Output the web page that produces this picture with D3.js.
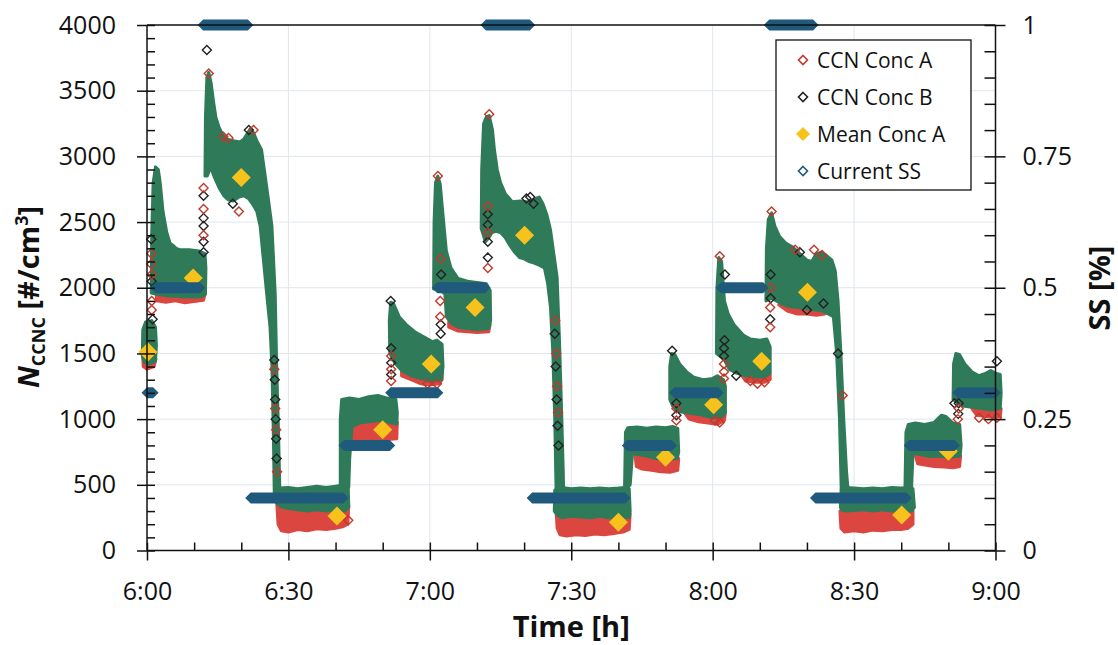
<!DOCTYPE html>
<html lang="en">
<head>
<meta charset="UTF-8" />
<title>CCNC concentration and supersaturation</title>
<style>
  * { margin: 0; padding: 0; }
  body { background: #fff; }
  text { font-family: "Open Sans", "DejaVu Sans", sans-serif; fill: #111; }
</style>
</head>
<body>
<script src="https://cdn.jsdelivr.net/npm/d3@7/dist/d3.min.js"></script>
<script>
// time = minutes after 6:00, concentration in #/cm3, SS in %
const xTicks = [0, 30, 60, 90, 120, 150, 180];
const xTickLabels = ["6:00", "6:30", "7:00", "7:30", "8:00", "8:30", "9:00"];
const yTicksLeft = [0, 500, 1000, 1500, 2000, 2500, 3000, 3500, 4000];
const yTicksRight = [0, 0.25, 0.5, 0.75, 1];
const legendLabels = ["CCN Conc A", "CCN Conc B", "Mean Conc A", "Current SS"];

// current SS: [start, end, ss]
const ssSteps = [
  [0, 1.3, 0.3], [1.8, 11.2, 0.5], [11.9, 21.4, 1.0], [22.0, 41.6, 0.1], [41.8, 51.5, 0.2],
  [51.7, 61.7, 0.3], [61.6, 71.7, 0.5], [71.9, 81.2, 1.0], [81.7, 101.4, 0.1], [101.9, 111.3, 0.2],
  [111.9, 121.2, 0.3], [121.8, 130.7, 0.5], [132.0, 141.3, 1.0], [141.8, 161.1, 0.1], [161.7, 171.3, 0.2],
  [172.0, 180, 0.3]
];

// mean conc A per SS step
const meanA = [
  [0.2, 1510], [9.8, 2075], [20.0, 2840], [40.3, 262], [50.0, 920], [60.3, 1420], [69.6, 1850],
  [80.1, 2400], [100.0, 215], [110.0, 710], [120.2, 1110], [130.4, 1440], [140.1, 1965],
  [160.1, 270], [170.0, 755]
];

// outline of the dense cloud of 1 s points
const denseBands = [
  [[-1,1480],[-0.9,1680],[-0.3,1740],[1,1750],[1.8,1700],[2,1560],[1.8,1440],[0.5,1420],[-0.5,1430]],
  [[0.9,1960],[1.0,2400],[1.3,2800],[1.8,2920],[2.4,2900],[2.8,2800],[3.4,2580],[4.2,2420],[4.9,2340],[5.6,2320],[6.2,2300],[7,2290],[9,2290],[11,2280],[12.3,2260],[12.5,2150],[12.4,1950],[11.5,1930],[8,1930],[4,1940],[2,1950]],
  [[12.3,2850],[12.4,3300],[12.7,3600],[13.1,3640],[13.6,3560],[14.1,3420],[14.6,3300],[15.3,3220],[16,3170],[17,3130],[18.3,3120],[19.7,3110],[20.5,3130],[21.2,3170],[21.9,3210],[22.6,3180],[23.3,3120],[24.3,3050],[25.0,2870],[25.8,2660],[26.5,2470],[27.2,1950],[27.5,1420],[27.9,900],[28.2,430],[27.0,430],[26.8,900],[26.5,1400],[26.1,1700],[25.4,1950],[24.7,2210],[24.0,2470],[23.3,2580],[22.5,2630],[21.5,2680],[20.5,2700],[19.5,2690],[18.3,2660],[17.2,2670],[16.3,2700],[15.3,2760],[14.3,2840],[13.5,2920],[12.8,2850]],
  [[27.2,400],[27.5,460],[28,475],[30,480],[32,470],[34,480],[36,490],[38,480],[40,490],[42,500],[42.7,480],[42.8,330],[42,300],[40,310],[38,300],[36,310],[34,300],[32,310],[30,320],[28.5,330],[27.5,360]],
  [[41.0,480],[41.0,1000],[41.3,1150],[43,1160],[45,1150],[47,1170],[49,1180],[51,1160],[52.8,1150],[53.1,1050],[53.0,960],[51,980],[49,990],[47,980],[45,970],[43.5,940],[43.0,700],[42.8,480]],
  [[51.5,1500],[51.4,1750],[51.7,1890],[52.3,1880],[53.5,1780],[55,1720],[57,1660],[59,1620],[60.5,1590],[61.5,1600],[62.6,1570],[62.8,1400],[62.5,1300],[60,1290],[58,1310],[56,1330],[54,1370],[52.5,1430]],
  [[60.8,1990],[60.9,2500],[61.2,2800],[61.7,2850],[62.2,2790],[62.8,2550],[63.5,2280],[64.5,2150],[66,2070],[68,2050],[70,2040],[72,2030],[72.8,1980],[72.9,1750],[72.5,1690],[70,1680],[68,1690],[66,1700],[64.5,1730],[63.5,1780],[63.2,1950],[62.4,1980]],
  [[70.9,2450],[71.0,2900],[71.4,3250],[72.0,3300],[72.6,3310],[73.3,3200],[73.7,3050],[74.3,2900],[75,2800],[76,2716],[77.5,2655],[79.2,2660],[81.3,2650],[82.5,2680],[83.2,2690],[84.0,2640],[84.8,2560],[85.6,2440],[86.3,2260],[87.0,2080],[87.5,1600],[88.0,1000],[88.3,600],[88.4,430],[86.8,430],[86.5,1000],[86.1,1500],[85.6,1850],[85.0,2030],[84.3,2150],[83.3,2170],[82,2190],[81,2200],[80,2220],[79,2230],[78,2270],[77,2320],[76,2380],[75,2420],[74,2430],[73.2,2420],[72.5,2380],[71.8,2350]],
  [[86.4,300],[86.5,460],[88,480],[90,470],[92,475],[94,470],[96,475],[98,470],[100,475],[101.5,480],[102.3,470],[102.5,300],[102.3,250],[100,255],[98,250],[96,260],[94,250],[92,255],[90,260],[88,250],[87,270]],
  [[101.3,450],[101.5,900],[102,935],[104,940],[106,930],[108,940],[110,935],[111.5,945],[112.6,930],[112.8,750],[112.5,700],[110,690],[108,700],[106,720],[104,730],[103,740],[102.5,500]],
  [[110.9,1150],[110.9,1400],[111.3,1500],[112,1490],[113,1420],[114.5,1360],[116,1320],[118,1300],[120,1310],[121,1330],[122.3,1300],[122.7,1250],[122.7,1050],[122,1020],[120,1010],[118,1030],[116,1040],[114,1050],[112.5,1060],[111.5,1100]],
  [[120.8,1500],[120.9,2000],[121.3,2230],[121.9,2200],[122.5,1900],[123.3,1800],[124.5,1720],[125.5,1680],[126.5,1640],[128,1610],[130,1600],[131.5,1610],[132.2,1550],[132.2,1350],[131,1320],[129,1320],[127,1330],[125,1350],[123.5,1380],[122.5,1450]],
  [[131.3,1900],[131.4,2300],[131.8,2520],[132.5,2570],[133.2,2470],[134.2,2390],[135.5,2340],[137,2310],[138.5,2260],[140,2210],[141,2200],[142,2260],[143,2270],[144,2250],[145.3,2210],[146,2130],[146.6,1900],[147.2,1500],[147.8,1000],[148.4,600],[148.8,430],[147.3,430],[146.9,1000],[146.3,1500],[145.6,1780],[144.5,1800],[143.5,1820],[142,1830],[140,1840],[138,1850],[136,1860],[134.5,1880],[133.5,1900],[132.5,1920]],
  [[147.1,330],[147.3,470],[148,480],[150,475],[152,470],[154,475],[156,470],[158,480],[160,475],[161.5,480],[162.5,470],[162.8,330],[162.3,300],[160,305],[158,300],[156,310],[154,300],[152,310],[150,305],[148,300],[147.3,310]],
  [[160.8,480],[161,900],[161.5,960],[163,970],[165,960],[167,975],[168.5,1030],[169.5,1020],[171,970],[172.4,960],[172.7,800],[172.5,720],[170,710],[168,720],[166,715],[164,730],[162.5,740],[162.2,480]],
  [[171,1150],[171.1,1420],[171.6,1500],[172.4,1490],[173.5,1420],[175,1360],[176.5,1330],[178,1350],[179,1370],[180,1350],[181,1340],[181.2,1200],[181,1080],[179,1070],[177,1080],[175,1090],[173,1100],[172,1120]]
];

// where conc A sits below the dense cloud
const lowBandsA = [
  [[-0.9,1480],[-0.8,1400],[0,1380],[1.5,1400],[1.9,1460]],
  [[2,1960],[2,1900],[4,1890],[6,1900],[8,1885],[10,1895],[12,1905],[12.3,1950]],
  [[27.5,380],[27.8,200],[28.5,150],[30,140],[32,160],[34,150],[36,165],[38,160],[40,170],[41.5,180],[42.6,200],[42.8,340],[27.6,340]],
  [[43,950],[43,840],[45,850],[47,830],[49,835],[51,845],[53,850],[53.1,980],[43,980]],
  [[54,1380],[54,1330],[56,1300],[58,1270],[60,1260],[62,1270],[62.6,1300],[62.6,1380]],
  [[64,1740],[64,1700],[66,1670],[70,1660],[72.5,1665],[72.8,1720]],
  [[86.8,300],[87,170],[87.6,120],[89,110],[91,120],[93,115],[95,125],[97,120],[99,130],[101,140],[102.3,160],[102.5,280]],
  [[103.5,740],[103.8,640],[105,620],[107,610],[109,600],[111,595],[112.6,610],[112.8,700]],
  [[114,1050],[115,1000],[117,980],[119,970],[121,960],[122.5,990],[122.7,1050]],
  [[126,1340],[127,1290],[129,1280],[131,1280],[132.2,1300],[132.2,1340]],
  [[134,1870],[136,1820],[138,1800],[140,1800],[142,1790],[143.8,1800],[144.4,1850]],
  [[147,300],[147.2,170],[148,140],[150,150],[152,140],[154,155],[156,150],[158,160],[160,160],[161.5,170],[162.5,200],[162.5,300]],
  [[163,720],[163.5,660],[165,650],[167,640],[169,635],[171,630],[172.4,640],[172.6,720]],
  [[175,1080],[176,1030],[178,1020],[180,1010],[181,1020],[181.2,1080]]
];

// single points that stand out of the cloud
const outliersA = [
  [0.9,2260],[0.9,2180],[1.0,2100],[1.0,1900],[1.0,1830],[12.0,2760],[12.0,2600],[12.0,2400],
  [13.1,3630],[16.2,3150],[17.3,3140],[19.5,2580],[22.6,3200],[27.0,1380],[27.2,1080],[27.4,920],
  [27.6,600],[42.7,230],[51.8,1290],[51.8,1380],[51.8,1480],[59.5,1270],[61.5,1270],[61.7,2850],
  [62.2,1900],[62.2,1780],[62.3,2220],[72.3,2620],[72.3,2420],[72.3,2150],[72.6,3320],[86.6,1750],
  [86.8,1500],[87.0,1250],[87.2,1050],[112.3,990],[112.3,1080],[120.5,990],[121.5,975],[121.5,2240],
  [122.4,1310],[122.4,1360],[122.4,1420],[128,1290],[129.5,1270],[131,1280],[132.2,1700],[132.2,1850],
  [132.3,2000],[132.5,2580],[137.5,2290],[141.5,2290],[143.2,2250],[147.6,1180],[172.0,1000],
  [172.2,1080],[176.5,1010],[178.5,1000],[180.3,1010]
];
const outliersB = [
  [0.9,2370],[1.0,2050],[1.2,1760],[12.0,2700],[12.0,2530],[12.0,2470],[12.0,2350],[12.0,2270],
  [12.7,3810],[21.6,3200],[18.2,2640],[27.0,1450],[27.1,1300],[27.2,1150],[27.3,1000],[27.4,850],
  [27.5,700],[51.8,1340],[51.8,1430],[51.8,1540],[51.7,1900],[62.3,1650],[62.3,1720],[62.2,2000],
  [62.4,2100],[72.3,2560],[72.3,2480],[72.3,2350],[72.3,2230],[80.5,2680],[81.3,2690],[82,2640],
  [86.5,1650],[86.7,1400],[86.9,1150],[87.1,950],[87.3,800],[112.3,1030],[112.3,1120],[111.4,1520],
  [122.4,1480],[122.4,1540],[122.5,1600],[122.6,2100],[125,1330],[132.2,1760],[132.3,1920],
  [132.3,2100],[138.5,2270],[140,1830],[143.5,1880],[146.6,1500],[172.1,1040],[172.2,1120],
  [171.3,1120],[180.3,1440]
];

const colA = "#c0392b", colB = "#222", colMean = "#f8c21c", colSS = "#1f5a7c";
const colDense = "#2e7a59", colLow = "#db4640";

const W = 1118, H = 645;
const x = d3.scaleLinear().domain([0, 180]).range([147, 995.5]);
const y = d3.scaleLinear().domain([0, 4000]).range([550.5, 25]);
const y2 = d3.scaleLinear().domain([0, 1]).range([550.5, 25]);

const svg = d3.select("body").append("svg").attr("width", W).attr("height", H);

const diamond = (r) => `M0,${-r}L${r},0L0,${r}L${-r},0Z`;

// gridlines
svg.append("g").selectAll("line").data(yTicksLeft.slice(1, -1)).join("line")
  .attr("x1", x(0)).attr("x2", x(180)).attr("y1", (d) => y(d)).attr("y2", (d) => y(d))
  .attr("stroke", "#e1e6ee").attr("stroke-width", 1);
svg.append("g").selectAll("line").data(xTicks.slice(1, -1)).join("line")
  .attr("x1", (d) => x(d)).attr("x2", (d) => x(d)).attr("y1", y(0)).attr("y2", y(4000))
  .attr("stroke", "#e1e6ee").attr("stroke-width", 1);

const poly = d3.line().x((d) => x(d[0])).y((d) => y(d[1]));

// conc A below the cloud
svg.append("g").selectAll("path").data(lowBandsA).join("path")
  .attr("d", (d) => poly(d) + "Z")
  .attr("fill", colLow).attr("stroke", colLow).attr("stroke-width", 3).attr("stroke-linejoin", "round");

// dense cloud
svg.append("g").selectAll("path").data(denseBands).join("path")
  .attr("d", (d) => poly(d) + "Z")
  .attr("fill", colDense).attr("stroke", colDense).attr("stroke-width", 3).attr("stroke-linejoin", "round");

// single points
svg.append("g").selectAll("path").data(outliersB).join("path")
  .attr("transform", (d) => `translate(${x(d[0])},${y(d[1])})`)
  .attr("d", diamond(4.5)).attr("fill", "none").attr("stroke", colB).attr("stroke-width", 1.4);
svg.append("g").selectAll("path").data(outliersA).join("path")
  .attr("transform", (d) => `translate(${x(d[0])},${y(d[1])})`)
  .attr("d", diamond(4.5)).attr("fill", "none").attr("stroke", colA).attr("stroke-width", 1.4);

// means
svg.append("g").selectAll("path").data(meanA).join("path")
  .attr("transform", (d) => `translate(${x(d[0])},${y(d[1])})`)
  .attr("d", diamond(9.5)).attr("fill", colMean);

// current SS as runs of markers
const h = 5.5;
svg.append("g").selectAll("path").data(ssSteps).join("path")
  .attr("d", (d) => {
    const x0 = x(d[0]), x1 = x(d[1]), yy = y2(d[2]);
    return `M${x0 - h},${yy}L${x0},${yy - h}L${x1},${yy - h}L${x1 + h},${yy}L${x1},${yy + h}L${x0},${yy + h}Z`;
  })
  .attr("fill", colSS);

// axes
const styleAxis = (g) => {
  g.attr("font-family", '"Open Sans", sans-serif').attr("font-size", 25).attr("color", "#111");
  g.select(".domain").remove();
  g.selectAll(".tick line").attr("stroke-width", 1.5);
};

svg.append("g").attr("transform", `translate(${x(0)},0)`)
  .call(d3.axisLeft(y).tickValues(d3.range(0, 4001, 100)).tickSize(-8).tickFormat(""))
  .call(styleAxis);
svg.append("g").attr("transform", `translate(${x(0)},0)`)
  .call(d3.axisLeft(y).tickValues(yTicksLeft).tickSize(10).tickPadding(21).tickFormat(d3.format("d")))
  .call(styleAxis);

svg.append("g").attr("transform", `translate(${x(180)},0)`)
  .call(d3.axisRight(y2).tickValues(d3.range(0, 1.001, 0.05)).tickSize(-11).tickFormat(""))
  .call(styleAxis);
svg.append("g").attr("transform", `translate(${x(180)},0)`)
  .call(d3.axisRight(y2).tickValues(yTicksRight).tickSize(10).tickPadding(17).tickFormat((d) => String(d)))
  .call(styleAxis);

svg.append("g").attr("transform", `translate(0,${y(0)})`)
  .call(d3.axisBottom(x).tickValues(d3.range(0, 181, 10)).tickSize(-8).tickFormat(""))
  .call(styleAxis);
svg.append("g").attr("transform", `translate(0,${y(0)})`)
  .call(d3.axisBottom(x).tickValues(xTicks).tickSize(10).tickPadding(22).tickFormat((d, i) => xTickLabels[i]))
  .call(styleAxis);

// frame lines
const frame = svg.append("g").attr("stroke", "#111").attr("stroke-width", 1.5);
frame.append("line").attr("x1", x(0)).attr("x2", x(0)).attr("y1", y(0)).attr("y2", y(4000));
frame.append("line").attr("x1", x(180)).attr("x2", x(180)).attr("y1", y(0)).attr("y2", y(4000));
frame.append("line").attr("x1", x(0)).attr("x2", x(180)).attr("y1", y(0)).attr("y2", y(0));
frame.append("line").attr("x1", x(0)).attr("x2", x(180)).attr("y1", y(4000)).attr("y2", y(4000));

// axis titles
svg.append("text").attr("x", (x(0) + x(180)) / 2).attr("y", 637).attr("text-anchor", "middle")
  .style("font-size", "29px").style("font-weight", "bold").text("Time [h]");

const lt = svg.append("text").attr("transform", "translate(39,297) rotate(-90)")
  .attr("text-anchor", "middle").style("font-size", "29px").style("font-weight", "bold");
lt.append("tspan").style("font-style", "italic").text("N");
lt.append("tspan").attr("dy", 6).style("font-size", "18px").text("CCNC");
lt.append("tspan").attr("dy", -6).text(" [#/cm");
lt.append("tspan").attr("dy", -11).style("font-size", "18px").text("3");
lt.append("tspan").attr("dy", 11).text("]");

svg.append("text").attr("transform", "translate(1110,288) rotate(-90)").attr("text-anchor", "middle")
  .style("font-size", "29px").style("font-weight", "bold").text("SS [%]");

// legend
const lg = svg.append("g").attr("transform", "translate(776,40)");
lg.append("rect").attr("width", 195).attr("height", 150).attr("fill", "#fff")
  .attr("stroke", "#111").attr("stroke-width", 1.3);
const rows = lg.selectAll("g.row").data(legendLabels).join("g").attr("class", "row")
  .attr("transform", (d, i) => `translate(27,${20 + i * 37})`);
rows.append("path")
  .attr("d", (d, i) => (i === 2 ? diamond(7) : diamond(4.5)))
  .attr("fill", (d, i) => (i === 2 ? colMean : "none"))
  .attr("stroke", (d, i) => [colA, colB, "none", colSS][i])
  .attr("stroke-width", 1.6);
rows.append("text").attr("x", 14).attr("dy", "0.36em").style("font-size", "21px").text((d) => d);
</script>
</body>
</html>
